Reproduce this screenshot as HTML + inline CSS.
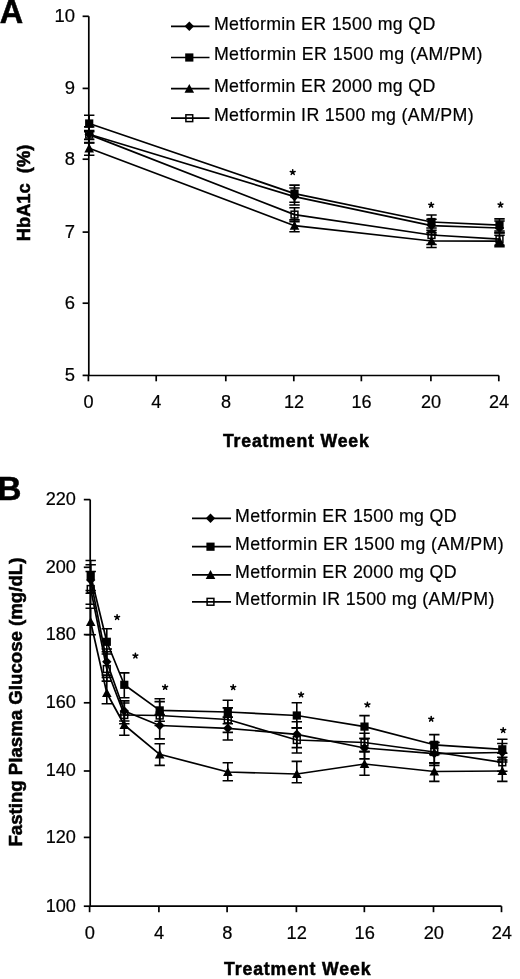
<!DOCTYPE html><html><head><meta charset="utf-8"><style>html,body{margin:0;padding:0;background:#fff;overflow:hidden;}svg{display:block;font-family:"Liberation Sans",sans-serif;filter:grayscale(1);}text{stroke:#000;stroke-width:0.2px;}text[font-weight=bold]{stroke-width:0.55px;}</style></head><body>
<svg width="520" height="979" viewBox="0 0 520 979">
<rect width="520" height="979" fill="#fff"/>
<g fill="#000">
<text x="-0.2" y="23.4" font-size="33.5" text-anchor="start" font-weight="bold" textLength="23.4" lengthAdjust="spacingAndGlyphs">A</text>
<path d="M88.8,16.3V375.5H498.8" stroke="#000" stroke-width="1.7" fill="none" stroke-linejoin="miter"/>
<path d="M82.6,16.30H88.8" stroke="#000" stroke-width="1.7"/>
<text x="75.0" y="22.10" font-size="17.6" text-anchor="end" textLength="20.55" lengthAdjust="spacingAndGlyphs">10</text>
<path d="M82.6,88.40H88.8" stroke="#000" stroke-width="1.7"/>
<text x="75.0" y="94.20" font-size="17.6" text-anchor="end" textLength="10.27" lengthAdjust="spacingAndGlyphs">9</text>
<path d="M82.6,159.20H88.8" stroke="#000" stroke-width="1.7"/>
<text x="75.0" y="165.00" font-size="17.6" text-anchor="end" textLength="10.27" lengthAdjust="spacingAndGlyphs">8</text>
<path d="M82.6,232.10H88.8" stroke="#000" stroke-width="1.7"/>
<text x="75.0" y="237.90" font-size="17.6" text-anchor="end" textLength="10.27" lengthAdjust="spacingAndGlyphs">7</text>
<path d="M82.6,303.20H88.8" stroke="#000" stroke-width="1.7"/>
<text x="75.0" y="309.00" font-size="17.6" text-anchor="end" textLength="10.27" lengthAdjust="spacingAndGlyphs">6</text>
<path d="M82.6,375.40H88.8" stroke="#000" stroke-width="1.7"/>
<text x="75.0" y="381.20" font-size="17.6" text-anchor="end" textLength="10.27" lengthAdjust="spacingAndGlyphs">5</text>
<path d="M88.40,375.5V381.3" stroke="#000" stroke-width="1.7"/>
<text x="88.60" y="408.1" font-size="17.6" text-anchor="middle" textLength="10.08" lengthAdjust="spacingAndGlyphs">0</text>
<path d="M156.20,375.5V381.3" stroke="#000" stroke-width="1.7"/>
<text x="156.40" y="408.1" font-size="17.6" text-anchor="middle" textLength="10.08" lengthAdjust="spacingAndGlyphs">4</text>
<path d="M225.80,375.5V381.3" stroke="#000" stroke-width="1.7"/>
<text x="226.00" y="408.1" font-size="17.6" text-anchor="middle" textLength="10.08" lengthAdjust="spacingAndGlyphs">8</text>
<path d="M293.80,375.5V381.3" stroke="#000" stroke-width="1.7"/>
<text x="294.00" y="408.1" font-size="17.6" text-anchor="middle" textLength="20.16" lengthAdjust="spacingAndGlyphs">12</text>
<path d="M361.35,375.5V381.3" stroke="#000" stroke-width="1.7"/>
<text x="361.55" y="408.1" font-size="17.6" text-anchor="middle" textLength="20.16" lengthAdjust="spacingAndGlyphs">16</text>
<path d="M430.90,375.5V381.3" stroke="#000" stroke-width="1.7"/>
<text x="431.10" y="408.1" font-size="17.6" text-anchor="middle" textLength="20.16" lengthAdjust="spacingAndGlyphs">20</text>
<path d="M498.80,375.5V381.3" stroke="#000" stroke-width="1.7"/>
<text x="499.00" y="408.1" font-size="17.6" text-anchor="middle" textLength="20.16" lengthAdjust="spacingAndGlyphs">24</text>
<text transform="translate(222.9,447.3) scale(0.93,1)" font-size="19.0" font-weight="bold" letter-spacing="0.9">Treatment Week</text>
<text transform="translate(30.1,241.2) rotate(-90)" font-size="18.6" font-weight="bold" textLength="96.5" lengthAdjust="spacingAndGlyphs">HbA1c&#160; (%)</text>
<path d="M171,26.3H209.5" stroke="#000" stroke-width="1.7"/>
<path d="M189.30,21.60L194.00,26.30L189.30,31.00L184.60,26.30Z" fill="#000"/>
<text x="213.9" y="29.50" font-size="17.8" text-anchor="start" textLength="221.4" lengthAdjust="spacing">Metformin ER 1500 mg QD</text>
<path d="M171,57.5H209.5" stroke="#000" stroke-width="1.7"/>
<rect x="185.20" y="53.40" width="8.20" height="8.20" fill="#000"/>
<text x="213.9" y="60.30" font-size="17.8" text-anchor="start" textLength="268.5" lengthAdjust="spacing">Metformin ER 1500 mg (AM/PM)</text>
<path d="M171,88.7H209.5" stroke="#000" stroke-width="1.7"/>
<path d="M189.30,83.90L194.10,92.78L184.50,92.78Z" fill="#000"/>
<text x="213.9" y="92.00" font-size="17.8" text-anchor="start" textLength="221.4" lengthAdjust="spacing">Metformin ER 2000 mg QD</text>
<path d="M171,118.2H209.5" stroke="#000" stroke-width="1.7"/>
<rect x="185.90" y="114.80" width="6.80" height="6.80" fill="none" stroke="#000" stroke-width="1.5"/>
<text x="213.9" y="120.80" font-size="17.8" text-anchor="start" textLength="259.7" lengthAdjust="spacing">Metformin IR 1500 mg (AM/PM)</text>
<path d="M89.20,131.60V143.00M84.00,131.60H94.40M84.00,143.00H94.40" stroke="#000" stroke-width="1.6" fill="none"/>
<path d="M294.50,207.80V221.60M289.30,207.80H299.70M289.30,221.60H299.70" stroke="#000" stroke-width="1.6" fill="none"/>
<path d="M431.50,228.00V244.50M426.30,228.00H436.70M426.30,244.50H436.70" stroke="#000" stroke-width="1.6" fill="none"/>
<path d="M499.50,232.60V245.20M494.30,232.60H504.70M494.30,245.20H504.70" stroke="#000" stroke-width="1.6" fill="none"/>
<path d="M89.20,115.20V130.60M84.00,115.20H94.40M84.00,130.60H94.40" stroke="#000" stroke-width="1.6" fill="none"/>
<path d="M294.50,185.10V202.30M289.30,185.10H299.70M289.30,202.30H299.70" stroke="#000" stroke-width="1.6" fill="none"/>
<path d="M431.50,215.00V230.20M426.30,215.00H436.70M426.30,230.20H436.70" stroke="#000" stroke-width="1.6" fill="none"/>
<path d="M499.50,218.90V231.00M494.30,218.90H504.70M494.30,231.00H504.70" stroke="#000" stroke-width="1.6" fill="none"/>
<path d="M89.20,126.90V139.40M84.00,126.90H94.40M84.00,139.40H94.40" stroke="#000" stroke-width="1.6" fill="none"/>
<path d="M294.50,188.00V205.00M289.30,188.00H299.70M289.30,205.00H299.70" stroke="#000" stroke-width="1.6" fill="none"/>
<path d="M431.50,219.20V232.60M426.30,219.20H436.70M426.30,232.60H436.70" stroke="#000" stroke-width="1.6" fill="none"/>
<path d="M499.50,221.00V233.00M494.30,221.00H504.70M494.30,233.00H504.70" stroke="#000" stroke-width="1.6" fill="none"/>
<path d="M89.20,142.60V155.20M84.00,142.60H94.40M84.00,155.20H94.40" stroke="#000" stroke-width="1.6" fill="none"/>
<path d="M294.50,219.90V231.70M289.30,219.90H299.70M289.30,231.70H299.70" stroke="#000" stroke-width="1.6" fill="none"/>
<path d="M431.50,234.50V247.50M426.30,234.50H436.70M426.30,247.50H436.70" stroke="#000" stroke-width="1.6" fill="none"/>
<path d="M499.50,235.20V246.70M494.30,235.20H504.70M494.30,246.70H504.70" stroke="#000" stroke-width="1.6" fill="none"/>
<polyline points="89.20,134.60 294.50,214.60 431.50,235.00 499.50,239.20" fill="none" stroke="#000" stroke-width="1.7" stroke-linejoin="round"/>
<polyline points="89.20,123.50 294.50,193.60 431.50,222.00 499.50,225.20" fill="none" stroke="#000" stroke-width="1.7" stroke-linejoin="round"/>
<polyline points="89.20,134.20 294.50,196.60 431.50,225.60 499.50,228.00" fill="none" stroke="#000" stroke-width="1.7" stroke-linejoin="round"/>
<polyline points="89.20,148.30 294.50,225.70 431.50,241.00 499.50,241.20" fill="none" stroke="#000" stroke-width="1.7" stroke-linejoin="round"/>
<rect x="85.80" y="131.20" width="6.80" height="6.80" fill="none" stroke="#000" stroke-width="1.5"/>
<rect x="291.10" y="211.20" width="6.80" height="6.80" fill="none" stroke="#000" stroke-width="1.5"/>
<rect x="428.10" y="231.60" width="6.80" height="6.80" fill="none" stroke="#000" stroke-width="1.5"/>
<rect x="496.10" y="235.80" width="6.80" height="6.80" fill="none" stroke="#000" stroke-width="1.5"/>
<rect x="85.10" y="119.40" width="8.20" height="8.20" fill="#000"/>
<rect x="290.40" y="189.50" width="8.20" height="8.20" fill="#000"/>
<rect x="427.40" y="217.90" width="8.20" height="8.20" fill="#000"/>
<rect x="495.40" y="221.10" width="8.20" height="8.20" fill="#000"/>
<path d="M89.20,129.50L93.90,134.20L89.20,138.90L84.50,134.20Z" fill="#000"/>
<path d="M294.50,191.90L299.20,196.60L294.50,201.30L289.80,196.60Z" fill="#000"/>
<path d="M431.50,220.90L436.20,225.60L431.50,230.30L426.80,225.60Z" fill="#000"/>
<path d="M499.50,223.30L504.20,228.00L499.50,232.70L494.80,228.00Z" fill="#000"/>
<path d="M89.20,143.50L94.00,152.38L84.40,152.38Z" fill="#000"/>
<path d="M294.50,220.90L299.30,229.78L289.70,229.78Z" fill="#000"/>
<path d="M431.50,236.20L436.30,245.08L426.70,245.08Z" fill="#000"/>
<path d="M499.50,236.40L504.30,245.28L494.70,245.28Z" fill="#000"/>
<path d="M292.70,172.30L292.70,169.75M292.70,172.30L290.27,171.51M292.70,172.30L291.20,174.36M292.70,172.30L294.20,174.36M292.70,172.30L295.13,171.51" stroke="#000" stroke-width="1.55" stroke-linecap="round" fill="none"/>
<path d="M431.20,205.00L431.20,202.45M431.20,205.00L428.77,204.21M431.20,205.00L429.70,207.06M431.20,205.00L432.70,207.06M431.20,205.00L433.63,204.21" stroke="#000" stroke-width="1.55" stroke-linecap="round" fill="none"/>
<path d="M500.50,204.90L500.50,202.35M500.50,204.90L498.07,204.11M500.50,204.90L499.00,206.96M500.50,204.90L502.00,206.96M500.50,204.90L502.93,204.11" stroke="#000" stroke-width="1.55" stroke-linecap="round" fill="none"/>
<text x="-2.8" y="500.0" font-size="33.5" text-anchor="start" font-weight="bold">B</text>
<path d="M90.2,499.6V906.2H501.5" stroke="#000" stroke-width="1.7" fill="none"/>
<path d="M83.8,499.60H90.2" stroke="#000" stroke-width="1.7"/>
<text x="75.9" y="504.90" font-size="17.6" text-anchor="end" textLength="30.24" lengthAdjust="spacingAndGlyphs">220</text>
<path d="M83.8,567.30H90.2" stroke="#000" stroke-width="1.7"/>
<text x="75.9" y="572.60" font-size="17.6" text-anchor="end" textLength="30.24" lengthAdjust="spacingAndGlyphs">200</text>
<path d="M83.8,634.60H90.2" stroke="#000" stroke-width="1.7"/>
<text x="75.9" y="639.90" font-size="17.6" text-anchor="end" textLength="30.24" lengthAdjust="spacingAndGlyphs">180</text>
<path d="M83.8,702.80H90.2" stroke="#000" stroke-width="1.7"/>
<text x="75.9" y="708.10" font-size="17.6" text-anchor="end" textLength="30.24" lengthAdjust="spacingAndGlyphs">160</text>
<path d="M83.8,771.00H90.2" stroke="#000" stroke-width="1.7"/>
<text x="75.9" y="776.30" font-size="17.6" text-anchor="end" textLength="30.24" lengthAdjust="spacingAndGlyphs">140</text>
<path d="M83.8,837.40H90.2" stroke="#000" stroke-width="1.7"/>
<text x="75.9" y="842.70" font-size="17.6" text-anchor="end" textLength="30.24" lengthAdjust="spacingAndGlyphs">120</text>
<path d="M83.8,906.20H90.2" stroke="#000" stroke-width="1.7"/>
<text x="75.9" y="911.50" font-size="17.6" text-anchor="end" textLength="30.24" lengthAdjust="spacingAndGlyphs">100</text>
<path d="M89.60,906.2V912.2" stroke="#000" stroke-width="1.7"/>
<text x="89.90" y="939.1" font-size="17.6" text-anchor="middle" textLength="10.18" lengthAdjust="spacingAndGlyphs">0</text>
<path d="M158.90,906.2V912.2" stroke="#000" stroke-width="1.7"/>
<text x="159.20" y="939.1" font-size="17.6" text-anchor="middle" textLength="10.18" lengthAdjust="spacingAndGlyphs">4</text>
<path d="M227.10,906.2V912.2" stroke="#000" stroke-width="1.7"/>
<text x="227.40" y="939.1" font-size="17.6" text-anchor="middle" textLength="10.18" lengthAdjust="spacingAndGlyphs">8</text>
<path d="M296.40,906.2V912.2" stroke="#000" stroke-width="1.7"/>
<text x="296.70" y="939.1" font-size="17.6" text-anchor="middle" textLength="20.35" lengthAdjust="spacingAndGlyphs">12</text>
<path d="M364.35,906.2V912.2" stroke="#000" stroke-width="1.7"/>
<text x="364.65" y="939.1" font-size="17.6" text-anchor="middle" textLength="20.35" lengthAdjust="spacingAndGlyphs">16</text>
<path d="M433.50,906.2V912.2" stroke="#000" stroke-width="1.7"/>
<text x="433.80" y="939.1" font-size="17.6" text-anchor="middle" textLength="20.35" lengthAdjust="spacingAndGlyphs">20</text>
<path d="M501.50,906.2V912.2" stroke="#000" stroke-width="1.7"/>
<text x="501.80" y="939.1" font-size="17.6" text-anchor="middle" textLength="20.35" lengthAdjust="spacingAndGlyphs">24</text>
<text transform="translate(224.0,974.8) scale(0.93,1)" font-size="19.0" font-weight="bold" letter-spacing="0.95">Treatment Week</text>
<text transform="translate(21.9,846.6) rotate(-90)" font-size="18.4" font-weight="bold" textLength="289" lengthAdjust="spacingAndGlyphs">Fasting Plasma Glucose (mg/dL)</text>
<path d="M192,518.3H231" stroke="#000" stroke-width="1.7"/>
<path d="M210.50,513.60L215.20,518.30L210.50,523.00L205.80,518.30Z" fill="#000"/>
<text x="235.1" y="521.60" font-size="17.8" text-anchor="start" textLength="221.5" lengthAdjust="spacing">Metformin ER 1500 mg QD</text>
<path d="M192,546.7H231" stroke="#000" stroke-width="1.7"/>
<rect x="206.40" y="542.60" width="8.20" height="8.20" fill="#000"/>
<text x="235.1" y="549.60" font-size="17.8" text-anchor="start" textLength="268.5" lengthAdjust="spacing">Metformin ER 1500 mg (AM/PM)</text>
<path d="M192,574.9H231" stroke="#000" stroke-width="1.7"/>
<path d="M210.50,570.10L215.30,578.98L205.70,578.98Z" fill="#000"/>
<text x="235.1" y="577.50" font-size="17.8" text-anchor="start" textLength="221.5" lengthAdjust="spacing">Metformin ER 2000 mg QD</text>
<path d="M192,601.8H231" stroke="#000" stroke-width="1.7"/>
<rect x="207.10" y="598.40" width="6.80" height="6.80" fill="none" stroke="#000" stroke-width="1.5"/>
<text x="235.1" y="605.30" font-size="17.8" text-anchor="start" textLength="259.2" lengthAdjust="spacing">Metformin IR 1500 mg (AM/PM)</text>
<path d="M90.70,571.50V604.20M85.50,571.50H95.90M85.50,604.20H95.90" stroke="#000" stroke-width="1.6" fill="none"/>
<path d="M106.80,651.70V681.10M101.60,651.70H112.00M101.60,681.10H112.00" stroke="#000" stroke-width="1.6" fill="none"/>
<path d="M124.30,703.00V723.80M119.10,703.00H129.50M119.10,723.80H129.50" stroke="#000" stroke-width="1.6" fill="none"/>
<path d="M159.70,701.60V725.50M154.50,701.60H164.90M154.50,725.50H164.90" stroke="#000" stroke-width="1.6" fill="none"/>
<path d="M227.80,707.90V732.40M222.60,707.90H233.00M222.60,732.40H233.00" stroke="#000" stroke-width="1.6" fill="none"/>
<path d="M296.80,727.90V753.00M291.60,727.90H302.00M291.60,753.00H302.00" stroke="#000" stroke-width="1.6" fill="none"/>
<path d="M364.50,733.20V751.60M359.30,733.20H369.70M359.30,751.60H369.70" stroke="#000" stroke-width="1.6" fill="none"/>
<path d="M434.30,742.50V762.90M429.10,742.50H439.50M429.10,762.90H439.50" stroke="#000" stroke-width="1.6" fill="none"/>
<path d="M502.30,753.30V771.30M497.10,753.30H507.50M497.10,771.30H507.50" stroke="#000" stroke-width="1.6" fill="none"/>
<path d="M90.70,560.50V590.50M85.50,560.50H95.90M85.50,590.50H95.90" stroke="#000" stroke-width="1.6" fill="none"/>
<path d="M106.80,628.70V654.00M101.60,628.70H112.00M101.60,654.00H112.00" stroke="#000" stroke-width="1.6" fill="none"/>
<path d="M124.30,672.90V697.70M119.10,672.90H129.50M119.10,697.70H129.50" stroke="#000" stroke-width="1.6" fill="none"/>
<path d="M159.70,698.70V721.30M154.50,698.70H164.90M154.50,721.30H164.90" stroke="#000" stroke-width="1.6" fill="none"/>
<path d="M227.80,700.20V723.70M222.60,700.20H233.00M222.60,723.70H233.00" stroke="#000" stroke-width="1.6" fill="none"/>
<path d="M296.80,702.70V727.90M291.60,702.70H302.00M291.60,727.90H302.00" stroke="#000" stroke-width="1.6" fill="none"/>
<path d="M364.50,715.60V738.50M359.30,715.60H369.70M359.30,738.50H369.70" stroke="#000" stroke-width="1.6" fill="none"/>
<path d="M434.30,734.60V754.60M429.10,734.60H439.50M429.10,754.60H439.50" stroke="#000" stroke-width="1.6" fill="none"/>
<path d="M502.30,739.30V757.30M497.10,739.30H507.50M497.10,757.30H507.50" stroke="#000" stroke-width="1.6" fill="none"/>
<path d="M90.70,564.80V593.30M85.50,564.80H95.90M85.50,593.30H95.90" stroke="#000" stroke-width="1.6" fill="none"/>
<path d="M106.80,649.00V675.10M101.60,649.00H112.00M101.60,675.10H112.00" stroke="#000" stroke-width="1.6" fill="none"/>
<path d="M124.30,700.90V721.00M119.10,700.90H129.50M119.10,721.00H129.50" stroke="#000" stroke-width="1.6" fill="none"/>
<path d="M159.70,714.50V738.90M154.50,714.50H164.90M154.50,738.90H164.90" stroke="#000" stroke-width="1.6" fill="none"/>
<path d="M227.80,717.10V740.00M222.60,717.10H233.00M222.60,740.00H233.00" stroke="#000" stroke-width="1.6" fill="none"/>
<path d="M296.80,721.80V747.60M291.60,721.80H302.00M291.60,747.60H302.00" stroke="#000" stroke-width="1.6" fill="none"/>
<path d="M364.50,738.50V758.90M359.30,738.50H369.70M359.30,758.90H369.70" stroke="#000" stroke-width="1.6" fill="none"/>
<path d="M434.30,742.50V765.40M429.10,742.50H439.50M429.10,765.40H439.50" stroke="#000" stroke-width="1.6" fill="none"/>
<path d="M502.30,743.50V760.00M497.10,743.50H507.50M497.10,760.00H507.50" stroke="#000" stroke-width="1.6" fill="none"/>
<path d="M90.70,608.30V634.80M85.50,608.30H95.90M85.50,634.80H95.90" stroke="#000" stroke-width="1.6" fill="none"/>
<path d="M106.80,677.40V703.80M101.60,677.40H112.00M101.60,703.80H112.00" stroke="#000" stroke-width="1.6" fill="none"/>
<path d="M124.30,715.00V735.30M119.10,715.00H129.50M119.10,735.30H129.50" stroke="#000" stroke-width="1.6" fill="none"/>
<path d="M159.70,743.80V765.40M154.50,743.80H164.90M154.50,765.40H164.90" stroke="#000" stroke-width="1.6" fill="none"/>
<path d="M227.80,762.70V780.70M222.60,762.70H233.00M222.60,780.70H233.00" stroke="#000" stroke-width="1.6" fill="none"/>
<path d="M296.80,761.40V782.80M291.60,761.40H302.00M291.60,782.80H302.00" stroke="#000" stroke-width="1.6" fill="none"/>
<path d="M364.50,751.60V775.30M359.30,751.60H369.70M359.30,775.30H369.70" stroke="#000" stroke-width="1.6" fill="none"/>
<path d="M434.30,762.90V781.40M429.10,762.90H439.50M429.10,781.40H439.50" stroke="#000" stroke-width="1.6" fill="none"/>
<path d="M502.30,762.00V781.40M497.10,762.00H507.50M497.10,781.40H507.50" stroke="#000" stroke-width="1.6" fill="none"/>
<polyline points="90.70,589.00 106.80,669.00 124.30,715.00 159.70,715.50 227.80,719.50 296.80,740.00 364.50,742.50 434.30,752.00 502.30,762.30" fill="none" stroke="#000" stroke-width="1.7" stroke-linejoin="round"/>
<polyline points="90.70,575.50 106.80,641.80 124.30,684.80 159.70,710.40 227.80,712.00 296.80,715.50 364.50,726.60 434.30,744.80 502.30,749.30" fill="none" stroke="#000" stroke-width="1.7" stroke-linejoin="round"/>
<polyline points="90.70,580.00 106.80,661.80 124.30,711.00 159.70,725.50 227.80,728.30 296.80,734.30 364.50,748.00 434.30,753.60 502.30,752.50" fill="none" stroke="#000" stroke-width="1.7" stroke-linejoin="round"/>
<polyline points="90.70,622.00 106.80,693.00 124.30,725.00 159.70,754.30 227.80,772.00 296.80,774.00 364.50,764.00 434.30,771.50 502.30,771.00" fill="none" stroke="#000" stroke-width="1.7" stroke-linejoin="round"/>
<rect x="87.30" y="585.60" width="6.80" height="6.80" fill="none" stroke="#000" stroke-width="1.5"/>
<rect x="103.40" y="665.60" width="6.80" height="6.80" fill="none" stroke="#000" stroke-width="1.5"/>
<rect x="120.90" y="711.60" width="6.80" height="6.80" fill="none" stroke="#000" stroke-width="1.5"/>
<rect x="156.30" y="712.10" width="6.80" height="6.80" fill="none" stroke="#000" stroke-width="1.5"/>
<rect x="224.40" y="716.10" width="6.80" height="6.80" fill="none" stroke="#000" stroke-width="1.5"/>
<rect x="293.40" y="736.60" width="6.80" height="6.80" fill="none" stroke="#000" stroke-width="1.5"/>
<rect x="361.10" y="739.10" width="6.80" height="6.80" fill="none" stroke="#000" stroke-width="1.5"/>
<rect x="430.90" y="748.60" width="6.80" height="6.80" fill="none" stroke="#000" stroke-width="1.5"/>
<rect x="498.90" y="758.90" width="6.80" height="6.80" fill="none" stroke="#000" stroke-width="1.5"/>
<rect x="86.60" y="571.40" width="8.20" height="8.20" fill="#000"/>
<rect x="102.70" y="637.70" width="8.20" height="8.20" fill="#000"/>
<rect x="120.20" y="680.70" width="8.20" height="8.20" fill="#000"/>
<rect x="155.60" y="706.30" width="8.20" height="8.20" fill="#000"/>
<rect x="223.70" y="707.90" width="8.20" height="8.20" fill="#000"/>
<rect x="292.70" y="711.40" width="8.20" height="8.20" fill="#000"/>
<rect x="360.40" y="722.50" width="8.20" height="8.20" fill="#000"/>
<rect x="430.20" y="740.70" width="8.20" height="8.20" fill="#000"/>
<rect x="498.20" y="745.20" width="8.20" height="8.20" fill="#000"/>
<path d="M90.70,575.30L95.40,580.00L90.70,584.70L86.00,580.00Z" fill="#000"/>
<path d="M106.80,657.10L111.50,661.80L106.80,666.50L102.10,661.80Z" fill="#000"/>
<path d="M124.30,706.30L129.00,711.00L124.30,715.70L119.60,711.00Z" fill="#000"/>
<path d="M159.70,720.80L164.40,725.50L159.70,730.20L155.00,725.50Z" fill="#000"/>
<path d="M227.80,723.60L232.50,728.30L227.80,733.00L223.10,728.30Z" fill="#000"/>
<path d="M296.80,729.60L301.50,734.30L296.80,739.00L292.10,734.30Z" fill="#000"/>
<path d="M364.50,743.30L369.20,748.00L364.50,752.70L359.80,748.00Z" fill="#000"/>
<path d="M434.30,748.90L439.00,753.60L434.30,758.30L429.60,753.60Z" fill="#000"/>
<path d="M502.30,747.80L507.00,752.50L502.30,757.20L497.60,752.50Z" fill="#000"/>
<path d="M90.70,617.20L95.50,626.08L85.90,626.08Z" fill="#000"/>
<path d="M106.80,688.20L111.60,697.08L102.00,697.08Z" fill="#000"/>
<path d="M124.30,720.20L129.10,729.08L119.50,729.08Z" fill="#000"/>
<path d="M159.70,749.50L164.50,758.38L154.90,758.38Z" fill="#000"/>
<path d="M227.80,767.20L232.60,776.08L223.00,776.08Z" fill="#000"/>
<path d="M296.80,769.20L301.60,778.08L292.00,778.08Z" fill="#000"/>
<path d="M364.50,759.20L369.30,768.08L359.70,768.08Z" fill="#000"/>
<path d="M434.30,766.70L439.10,775.58L429.50,775.58Z" fill="#000"/>
<path d="M502.30,766.20L507.10,775.08L497.50,775.08Z" fill="#000"/>
<path d="M117.10,617.30L117.10,614.75M117.10,617.30L114.67,616.51M117.10,617.30L115.60,619.36M117.10,617.30L118.60,619.36M117.10,617.30L119.53,616.51" stroke="#000" stroke-width="1.55" stroke-linecap="round" fill="none"/>
<path d="M135.40,655.80L135.40,653.25M135.40,655.80L132.97,655.01M135.40,655.80L133.90,657.86M135.40,655.80L136.90,657.86M135.40,655.80L137.83,655.01" stroke="#000" stroke-width="1.55" stroke-linecap="round" fill="none"/>
<path d="M165.10,687.20L165.10,684.65M165.10,687.20L162.67,686.41M165.10,687.20L163.60,689.26M165.10,687.20L166.60,689.26M165.10,687.20L167.53,686.41" stroke="#000" stroke-width="1.55" stroke-linecap="round" fill="none"/>
<path d="M233.20,687.40L233.20,684.85M233.20,687.40L230.77,686.61M233.20,687.40L231.70,689.46M233.20,687.40L234.70,689.46M233.20,687.40L235.63,686.61" stroke="#000" stroke-width="1.55" stroke-linecap="round" fill="none"/>
<path d="M301.10,694.70L301.10,692.15M301.10,694.70L298.67,693.91M301.10,694.70L299.60,696.76M301.10,694.70L302.60,696.76M301.10,694.70L303.53,693.91" stroke="#000" stroke-width="1.55" stroke-linecap="round" fill="none"/>
<path d="M367.40,704.70L367.40,702.15M367.40,704.70L364.97,703.91M367.40,704.70L365.90,706.76M367.40,704.70L368.90,706.76M367.40,704.70L369.83,703.91" stroke="#000" stroke-width="1.55" stroke-linecap="round" fill="none"/>
<path d="M431.20,719.00L431.20,716.45M431.20,719.00L428.77,718.21M431.20,719.00L429.70,721.06M431.20,719.00L432.70,721.06M431.20,719.00L433.63,718.21" stroke="#000" stroke-width="1.55" stroke-linecap="round" fill="none"/>
<path d="M503.20,730.30L503.20,727.75M503.20,730.30L500.77,729.51M503.20,730.30L501.70,732.36M503.20,730.30L504.70,732.36M503.20,730.30L505.63,729.51" stroke="#000" stroke-width="1.55" stroke-linecap="round" fill="none"/>
</g></svg></body></html>
